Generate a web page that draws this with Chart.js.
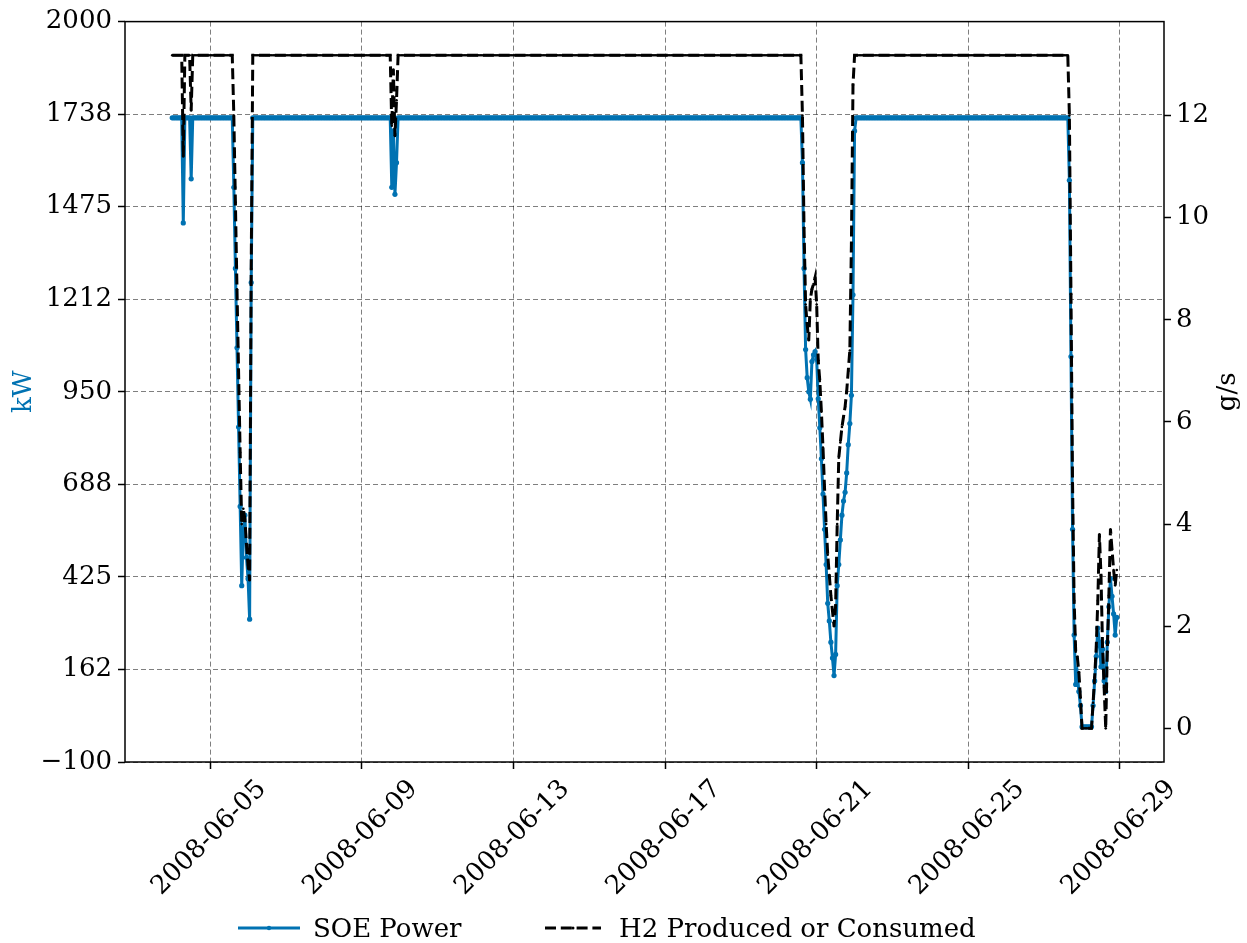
<!DOCTYPE html>
<html>
<head>
<meta charset="utf-8">
<title>SOE Power / H2</title>
<script src="https://cdn.jsdelivr.net/npm/chart.js@4.4.0/dist/chart.umd.min.js"></script>
<style>
  body { margin: 0; background: #fff; }
  #wrap { position: relative; width: 1247px; height: 943px; }
  #legend { position: absolute; left: 0; top: 912px; width: 1247px; height: 32px;
            font-family: 'DejaVu Serif'; font-size: 26px; line-height: 32px; color: #000; }
  .lg { position: absolute; top: 0; white-space: nowrap; }
  .lg svg { display: block; }
</style>
</head>
<body>
<div id="wrap">
  <canvas id="myChart" width="1247" height="943"></canvas>
  <div id="legend">
    <div class="lg" style="left:238px"><svg width="62" height="32"><line x1="0" y1="16" x2="62" y2="16" stroke="#0072b2" stroke-width="3"/><circle cx="31" cy="16" r="2.2" fill="#0072b2"/></svg></div>
    <div class="lg" style="left:313px">SOE Power</div>
    <div class="lg" style="left:545px"><svg width="56" height="32"><line x1="0" y1="16" x2="56" y2="16" stroke="#000" stroke-width="3" stroke-dasharray="11,4.8"/><circle cx="28" cy="16" r="1.5" fill="#000"/></svg></div>
    <div class="lg" style="left:619px">H2 Produced or Consumed</div>
  </div>
</div>
<script>
// hourly samples, first one at 2008-06-04 00:00; x is hours since 2008-06-05 00:00
var firstHour = -24;

// SOE power, kW (one row per day, 06-04 ... 06-28)
var soePower = [
  1727,1727,1727,1727,1727,1727,1727,1429,1727,1727,1727,1727,1554,1727,1727,1727,1727,1727,1727,1727,1727,1727,1727,1727,
  1727,1727,1727,1727,1727,1727,1727,1727,1727,1727,1727,1727,1727,1727,1727,1530,1300,1075,850,625,400,560,600,480,
  420,305,1260,1727,1727,1727,1727,1727,1727,1727,1727,1727,1727,1727,1727,1727,1727,1727,1727,1727,1727,1727,1727,1727,
  1727,1727,1727,1727,1727,1727,1727,1727,1727,1727,1727,1727,1727,1727,1727,1727,1727,1727,1727,1727,1727,1727,1727,1727,
  1727,1727,1727,1727,1727,1727,1727,1727,1727,1727,1727,1727,1727,1727,1727,1727,1727,1727,1727,1727,1727,1727,1727,1727,
  1727,1727,1727,1727,1727,1727,1727,1727,1727,1727,1727,1727,1727,1727,1727,1727,1727,1727,1727,1530,1690,1510,1600,1727,
  1727,1727,1727,1727,1727,1727,1727,1727,1727,1727,1727,1727,1727,1727,1727,1727,1727,1727,1727,1727,1727,1727,1727,1727,
  1727,1727,1727,1727,1727,1727,1727,1727,1727,1727,1727,1727,1727,1727,1727,1727,1727,1727,1727,1727,1727,1727,1727,1727,
  1727,1727,1727,1727,1727,1727,1727,1727,1727,1727,1727,1727,1727,1727,1727,1727,1727,1727,1727,1727,1727,1727,1727,1727,
  1727,1727,1727,1727,1727,1727,1727,1727,1727,1727,1727,1727,1727,1727,1727,1727,1727,1727,1727,1727,1727,1727,1727,1727,
  1727,1727,1727,1727,1727,1727,1727,1727,1727,1727,1727,1727,1727,1727,1727,1727,1727,1727,1727,1727,1727,1727,1727,1727,
  1727,1727,1727,1727,1727,1727,1727,1727,1727,1727,1727,1727,1727,1727,1727,1727,1727,1727,1727,1727,1727,1727,1727,1727,
  1727,1727,1727,1727,1727,1727,1727,1727,1727,1727,1727,1727,1727,1727,1727,1727,1727,1727,1727,1727,1727,1727,1727,1727,
  1727,1727,1727,1727,1727,1727,1727,1727,1727,1727,1727,1727,1727,1727,1727,1727,1727,1727,1727,1727,1727,1727,1727,1727,
  1727,1727,1727,1727,1727,1727,1727,1727,1727,1727,1727,1727,1727,1727,1727,1727,1727,1727,1727,1727,1727,1727,1727,1727,
  1727,1727,1727,1727,1727,1727,1727,1727,1727,1727,1727,1727,1727,1727,1727,1727,1727,1727,1727,1727,1727,1727,1727,1727,
  1727,1727,1727,1727,1727,1727,1727,1727,1727,1727,1727,1727,1727,1727,1727,1600,1300,1070,990,950,929,1036,1055,1064,
  1042,930,848,760,660,560,460,350,300,240,195,145,205,400,460,530,600,640,665,720,800,860,940,1225,
  1690,1727,1727,1727,1727,1727,1727,1727,1727,1727,1727,1727,1727,1727,1727,1727,1727,1727,1727,1727,1727,1727,1727,1727,
  1727,1727,1727,1727,1727,1727,1727,1727,1727,1727,1727,1727,1727,1727,1727,1727,1727,1727,1727,1727,1727,1727,1727,1727,
  1727,1727,1727,1727,1727,1727,1727,1727,1727,1727,1727,1727,1727,1727,1727,1727,1727,1727,1727,1727,1727,1727,1727,1727,
  1727,1727,1727,1727,1727,1727,1727,1727,1727,1727,1727,1727,1727,1727,1727,1727,1727,1727,1727,1727,1727,1727,1727,1727,
  1727,1727,1727,1727,1727,1727,1727,1727,1727,1727,1727,1727,1727,1727,1727,1727,1727,1727,1727,1727,1727,1727,1727,1727,
  1727,1727,1727,1727,1727,1727,1727,1727,1727,1727,1727,1727,1727,1727,1727,1727,1550,1050,560,260,120,150,100,60,
  0,0,0,0,0,0,0,60,130,200,280,240,170,220,130,100,240,340,420,370,320,260,310
];

// H2 produced or consumed, g/s
var h2Flow = [
  13.18,13.18,13.18,13.18,13.18,13.18,13.18,11.2,13.18,13.18,13.18,13.18,12.1,13.18,13.18,13.18,13.18,13.18,13.18,13.18,13.18,13.18,13.18,13.18,
  13.18,13.18,13.18,13.18,13.18,13.18,13.18,13.18,13.18,13.18,13.18,13.18,13.18,13.18,13.18,12.0,10.3,8.6,7.0,5.4,4.0,4.3,4.1,3.6,
  3.2,2.9,9.0,13.18,13.18,13.18,13.18,13.18,13.18,13.18,13.18,13.18,13.18,13.18,13.18,13.18,13.18,13.18,13.18,13.18,13.18,13.18,13.18,13.18,
  13.18,13.18,13.18,13.18,13.18,13.18,13.18,13.18,13.18,13.18,13.18,13.18,13.18,13.18,13.18,13.18,13.18,13.18,13.18,13.18,13.18,13.18,13.18,13.18,
  13.18,13.18,13.18,13.18,13.18,13.18,13.18,13.18,13.18,13.18,13.18,13.18,13.18,13.18,13.18,13.18,13.18,13.18,13.18,13.18,13.18,13.18,13.18,13.18,
  13.18,13.18,13.18,13.18,13.18,13.18,13.18,13.18,13.18,13.18,13.18,13.18,13.18,13.18,13.18,13.18,13.18,13.18,13.18,11.8,12.9,11.6,12.3,13.18,
  13.18,13.18,13.18,13.18,13.18,13.18,13.18,13.18,13.18,13.18,13.18,13.18,13.18,13.18,13.18,13.18,13.18,13.18,13.18,13.18,13.18,13.18,13.18,13.18,
  13.18,13.18,13.18,13.18,13.18,13.18,13.18,13.18,13.18,13.18,13.18,13.18,13.18,13.18,13.18,13.18,13.18,13.18,13.18,13.18,13.18,13.18,13.18,13.18,
  13.18,13.18,13.18,13.18,13.18,13.18,13.18,13.18,13.18,13.18,13.18,13.18,13.18,13.18,13.18,13.18,13.18,13.18,13.18,13.18,13.18,13.18,13.18,13.18,
  13.18,13.18,13.18,13.18,13.18,13.18,13.18,13.18,13.18,13.18,13.18,13.18,13.18,13.18,13.18,13.18,13.18,13.18,13.18,13.18,13.18,13.18,13.18,13.18,
  13.18,13.18,13.18,13.18,13.18,13.18,13.18,13.18,13.18,13.18,13.18,13.18,13.18,13.18,13.18,13.18,13.18,13.18,13.18,13.18,13.18,13.18,13.18,13.18,
  13.18,13.18,13.18,13.18,13.18,13.18,13.18,13.18,13.18,13.18,13.18,13.18,13.18,13.18,13.18,13.18,13.18,13.18,13.18,13.18,13.18,13.18,13.18,13.18,
  13.18,13.18,13.18,13.18,13.18,13.18,13.18,13.18,13.18,13.18,13.18,13.18,13.18,13.18,13.18,13.18,13.18,13.18,13.18,13.18,13.18,13.18,13.18,13.18,
  13.18,13.18,13.18,13.18,13.18,13.18,13.18,13.18,13.18,13.18,13.18,13.18,13.18,13.18,13.18,13.18,13.18,13.18,13.18,13.18,13.18,13.18,13.18,13.18,
  13.18,13.18,13.18,13.18,13.18,13.18,13.18,13.18,13.18,13.18,13.18,13.18,13.18,13.18,13.18,13.18,13.18,13.18,13.18,13.18,13.18,13.18,13.18,13.18,
  13.18,13.18,13.18,13.18,13.18,13.18,13.18,13.18,13.18,13.18,13.18,13.18,13.18,13.18,13.18,13.18,13.18,13.18,13.18,13.18,13.18,13.18,13.18,13.18,
  13.18,13.18,13.18,13.18,13.18,13.18,13.18,13.18,13.18,13.18,13.18,13.18,13.18,13.18,13.18,12.0,9.8,8.3,7.9,7.6,8.4,8.6,8.7,8.83,
  8.3,7.2,6.8,6.2,5.5,4.7,4.0,3.4,3.0,2.6,2.3,2.0,2.4,4.0,5.3,5.6,5.9,6.1,6.3,6.6,7.0,7.4,9.5,12.6,
  13.18,13.18,13.18,13.18,13.18,13.18,13.18,13.18,13.18,13.18,13.18,13.18,13.18,13.18,13.18,13.18,13.18,13.18,13.18,13.18,13.18,13.18,13.18,13.18,
  13.18,13.18,13.18,13.18,13.18,13.18,13.18,13.18,13.18,13.18,13.18,13.18,13.18,13.18,13.18,13.18,13.18,13.18,13.18,13.18,13.18,13.18,13.18,13.18,
  13.18,13.18,13.18,13.18,13.18,13.18,13.18,13.18,13.18,13.18,13.18,13.18,13.18,13.18,13.18,13.18,13.18,13.18,13.18,13.18,13.18,13.18,13.18,13.18,
  13.18,13.18,13.18,13.18,13.18,13.18,13.18,13.18,13.18,13.18,13.18,13.18,13.18,13.18,13.18,13.18,13.18,13.18,13.18,13.18,13.18,13.18,13.18,13.18,
  13.18,13.18,13.18,13.18,13.18,13.18,13.18,13.18,13.18,13.18,13.18,13.18,13.18,13.18,13.18,13.18,13.18,13.18,13.18,13.18,13.18,13.18,13.18,13.18,
  13.18,13.18,13.18,13.18,13.18,13.18,13.18,13.18,13.18,13.18,13.18,13.18,13.18,13.18,13.18,13.18,12.0,8.5,4.8,2.5,1.5,1.4,1.1,0.6,
  0,0,0,0,0,0,0,0.5,1.0,1.6,2.5,3.8,3.0,1.6,0.8,0,1.5,2.6,3.9,3.5,3.1,2.8,3.1
];

// axis ticks
var dateTicks = [0, 96, 192, 288, 384, 480, 576];
var dateLabels = ['2008-06-05', '2008-06-09', '2008-06-13', '2008-06-17', '2008-06-21', '2008-06-25', '2008-06-29'];
var kwTicks = [-100, 162.5, 425, 687.5, 950, 1212.5, 1475, 1737.5, 2000];
var kwLabels = ['\u2212100', '162', '425', '688', '950', '1212', '1475', '1738', '2000'];
var gsTicks = [0, 2, 4, 6, 8, 10, 12];

var blue = '#0072b2';
var gridColor = 'rgba(0,0,0,0.5)';

function toPoints(values) {
    return values.map(function (v, i) { return {x: firstHour + i, y: v}; });
}

// box around the plot and the right axis label
var framePlugin = {
    id: 'frame',
    afterDraw: function (chart) {
        var a = chart.chartArea, ctx = chart.ctx;
        ctx.save();
        ctx.setLineDash([]);
        ctx.strokeStyle = '#000';
        ctx.lineWidth = 1.5;
        ctx.strokeRect(a.left, a.top, a.right - a.left, a.bottom - a.top);
        ctx.translate(1228, (a.top + a.bottom) / 2);
        ctx.rotate(-Math.PI / 2);
        ctx.fillStyle = '#000';
        ctx.font = '26px "DejaVu Serif"';
        ctx.textAlign = 'center';
        ctx.textBaseline = 'middle';
        ctx.fillText('g/s', 0, 0);
        ctx.restore();
    }
};

Chart.defaults.font.family = 'DejaVu Serif';
Chart.defaults.font.size = 26;
Chart.defaults.color = '#000';

var ctx = document.getElementById('myChart').getContext('2d');
var chart = new Chart(ctx, {
    type: 'line',
    data: {
        datasets: [{
            label: 'SOE Power',
            data: toPoints(soePower),
            yAxisID: 'y',
            borderColor: blue,
            backgroundColor: blue,
            borderWidth: 3,
            pointRadius: 2.6,
            pointBorderWidth: 0,
            pointBackgroundColor: blue,
            tension: 0,
            order: 1
        }, {
            label: 'H2 Produced or Consumed',
            data: toPoints(h2Flow),
            yAxisID: 'y1',
            borderColor: '#000',
            backgroundColor: '#000',
            borderWidth: 3,
            borderDash: [11, 4.8],
            pointRadius: 1.3,
            pointBorderWidth: 0,
            pointBackgroundColor: '#000',
            tension: 0,
            order: 0
        }]
    },
    options: {
        responsive: false,
        animation: false,
        devicePixelRatio: 1,
        layout: { padding: { top: 19, left: 0, right: 0, bottom: 0 } },
        plugins: { legend: { display: false }, tooltip: { enabled: false } },
        scales: {
            x: {
                type: 'linear',
                min: -53.9,
                max: 603.9,
                afterBuildTicks: function (s) { s.ticks = dateTicks.map(function (v) { return {value: v}; }); },
                afterFit: function (s) { s.height = 181; },
                ticks: {
                    autoSkip: false,
                    minRotation: 45,
                    maxRotation: 45,
                    labelOffset: 52,
                    padding: 5,
                    callback: function (v) { return dateLabels[dateTicks.indexOf(v)]; }
                },
                grid: { color: gridColor, lineWidth: 1, tickLength: 7, tickColor: '#000', tickWidth: 1.5, tickBorderDash: [] },
                border: { display: false, dash: [5, 3] }
            },
            y: {
                position: 'left',
                min: -100,
                max: 2000,
                afterBuildTicks: function (s) { s.ticks = kwTicks.map(function (v) { return {value: v}; }); },
                afterFit: function (s) { s.width = 125; },
                ticks: {
                    autoSkip: false,
                    padding: 6,
                    callback: function (v) { return kwLabels[kwTicks.indexOf(v)]; }
                },
                title: { display: true, text: 'kW', color: blue, padding: { top: 9, bottom: 0 } },
                grid: { color: gridColor, lineWidth: 1, tickLength: 7, tickColor: '#000', tickWidth: 1.5, tickBorderDash: [] },
                border: { display: false, dash: [5, 3] }
            },
            y1: {
                position: 'right',
                min: -0.659,
                max: 13.84,
                afterBuildTicks: function (s) { s.ticks = gsTicks.map(function (v) { return {value: v}; }); },
                afterFit: function (s) { s.width = 83; },
                ticks: { autoSkip: false, padding: 5 },
                grid: { drawOnChartArea: false, tickLength: 7, tickColor: '#000', tickWidth: 1.5 },
                border: { display: false }
            }
        }
    },
    plugins: [framePlugin]
});
</script>
</body>
</html>
